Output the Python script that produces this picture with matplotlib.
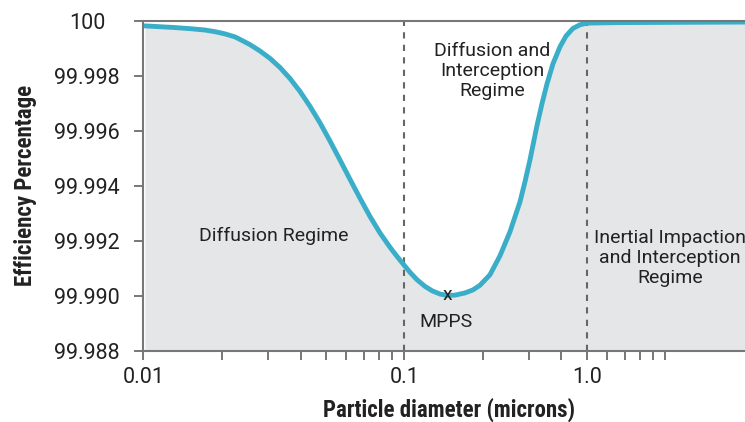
import matplotlib.pyplot as plt
from matplotlib.ticker import FixedLocator, NullFormatter

# readings from the reference (x on the chart's log axis, y in %)
diam = [0.01014, 0.01158, 0.01322, 0.01508, 0.01722, 0.01881, 0.02054, 0.02244,
        0.02345, 0.02561, 0.02797, 0.03055, 0.03337, 0.03645, 0.03981, 0.04348,
        0.04750, 0.05187, 0.05666, 0.06188, 0.06760, 0.07382, 0.08063, 0.08807,
        0.09368, 0.09877, 0.1051, 0.1118, 0.1199, 0.1276, 0.1369, 0.1456,
        0.1563, 0.1707, 0.1832, 0.1949, 0.2128, 0.2325, 0.2539, 0.2774,
        0.2899, 0.3029, 0.3221, 0.3367, 0.3519, 0.3709, 0.3947, 0.4161,
        0.4426, 0.4708, 0.5008, 0.5614, 0.6700, 1.137, 2.020]
eff = [99.99981, 99.99978, 99.99975, 99.99971, 99.99966, 99.99960, 99.99952, 99.99941,
       99.99932, 99.99913, 99.99890, 99.99863, 99.99830, 99.99790, 99.99743, 99.99689,
       99.99629, 99.99563, 99.99494, 99.99424, 99.99355, 99.99289, 99.99229, 99.99177,
       99.99144, 99.99117, 99.99086, 99.99059, 99.99035, 99.99019, 99.99007, 99.99002,
       99.99003, 99.99011, 99.99022, 99.99039, 99.99077, 99.99146, 99.99233, 99.99342,
       99.99415, 99.99494, 99.99618, 99.99698, 99.99770, 99.99843, 99.99905, 99.99944,
       99.99972, 99.99985, 99.99991, 99.99992, 99.99993, 99.99994, 99.99995]

xticks = [0.01, 0.1, 0.5]
xtick_labels = ['0.01', '0.1', '1.0']
xminor = [0.02, 0.03, 0.04, 0.05, 0.06, 0.07, 0.08, 0.09,
          0.2, 0.3, 0.4, 0.6, 0.7, 0.8, 0.9, 1.0]
yticks = [99.988, 99.990, 99.992, 99.994, 99.996, 99.998, 100]
ytick_labels = ['99.988', '99.990', '99.992', '99.994', '99.996', '99.998', '100']
regime_lines = [0.1, 0.5]

plt.rcParams['font.family'] = ['Roboto Condensed', 'Roboto', 'DejaVu Sans']
text_col = '#222222'
spine_col = '#777777'

fig = plt.figure(figsize=(7.45, 4.22), dpi=100)
ax = fig.add_axes([0.1925, 0.1682, 0.8075, 0.7828])

ax.fill_between(diam, eff, 99.988, color='#e5e6e8', lw=0, zorder=1)
ax.plot(diam, eff, color='#3aaec8', lw=3.5, solid_joinstyle='round',
        solid_capstyle='round', zorder=3)
for xv in regime_lines:
    ax.axvline(xv, color='#666666', lw=1.5, ls=(0, (3, 3)), zorder=2)

ax.set_xscale('log')
ax.set_xlim(0.01, 2.02)
ax.set_ylim(99.988, 100)

ax.xaxis.set_major_locator(FixedLocator(xticks))
ax.set_xticklabels(xtick_labels)
ax.xaxis.set_minor_locator(FixedLocator(xminor))
ax.xaxis.set_minor_formatter(NullFormatter())
ax.set_yticks(yticks)
ax.set_yticklabels(ytick_labels)

ax.tick_params(axis='both', which='both', length=6.5, width=1.4, color=spine_col,
               labelsize=15.5, labelcolor=text_col)
ax.tick_params(axis='y', pad=34)
ax.tick_params(axis='x', pad=5)
for t in ax.get_yticklabels() + ax.get_xticklabels():
    t.set_family(['Roboto', 'DejaVu Sans'])
for t in ax.get_yticklabels():
    t.set_horizontalalignment('center')

for s in ['left', 'bottom', 'top']:
    ax.spines[s].set_color(spine_col)
    ax.spines[s].set_linewidth(1.5)
    ax.spines[s].set_zorder(4)
ax.spines['right'].set_visible(False)

ax.set_xlabel('Particle diameter (microns)', fontsize=16.5, fontweight='bold',
              color=text_col, labelpad=7)
ax.xaxis.label.set_x(0.508)
ax.set_ylabel('Efficiency Percentage', fontsize=16.5, fontweight='bold',
              color=text_col, labelpad=12.5)

lbl = dict(fontsize=14, color=text_col, ha='center', va='center',
           linespacing=1.15, family=['Roboto', 'DejaVu Sans'], zorder=5)
ax.text(0.0317, 99.99219, 'Diffusion Regime', **lbl)
ax.text(0.2166, 99.99817, 'Diffusion and\nInterception\nRegime', **lbl)
ax.text(1.041, 99.99138, 'Inertial Impaction\nand Interception\nRegime', **lbl)
ax.text(0.1456, 99.99003, 'x', **lbl)
ax.text(0.1438, 99.98906, 'MPPS', **lbl)

fig.savefig('out.png', dpi=100)
